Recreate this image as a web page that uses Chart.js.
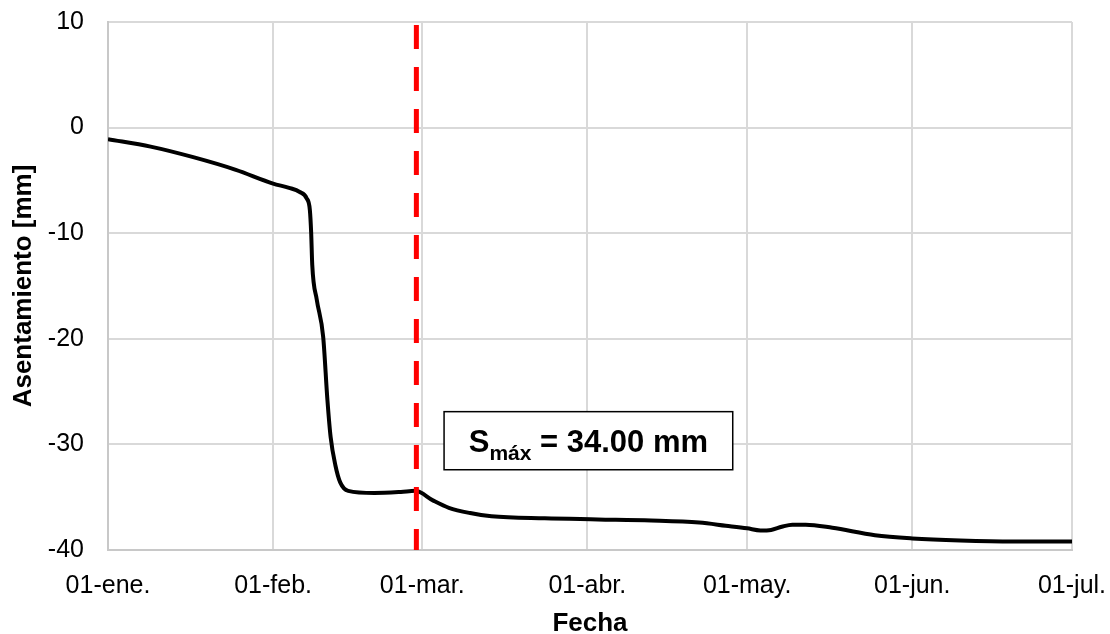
<!DOCTYPE html>
<html>
<head>
<meta charset="utf-8">
<script src="https://cdn.jsdelivr.net/npm/chart.js@4.4.1/dist/chart.umd.min.js"></script>
<style>
  body { margin: 0; background: #fff; }
  canvas { display: block; }
</style>
</head>
<body>
<canvas id="chart" width="1110" height="634"></canvas>
<script>
// Days counted from 01-ene.
const days = [0, 8, 16, 24, 31, 34, 36, 37.3, 37.9, 38.15, 38.35, 39.2, 40.4, 41.2, 41.8, 42.7, 43.6, 45.1, 50, 55, 57.7, 61, 64, 68, 72, 82, 92, 102, 111, 116, 120, 122.5, 124.5, 126.5, 128.5, 131, 136, 144, 151, 160, 170, 181];
const settlement = [-1.1, -1.8, -2.8, -4.0, -5.3, -5.7, -6.1, -6.7, -7.8, -10.0, -13.0, -16.3, -19.8, -25.8, -29.3, -32.0, -33.6, -34.4, -34.6, -34.5, -34.4, -35.3, -36.0, -36.5, -36.8, -37.0, -37.1, -37.2, -37.4, -37.7, -37.95, -38.15, -38.1, -37.8, -37.6, -37.6, -37.9, -38.6, -38.9, -39.1, -39.2, -39.2];

// Red dashed marker (day of S max)
const markerDays = [57.9, 57.9];
const markerValues = [10, -40];

const tickDays = [0, 31, 59, 90, 120, 151, 181];
const tickLabels = ["01-ene.", "01-feb.", "01-mar.", "01-abr.", "01-may.", "01-jun.", "01-jul."];

const FONT = "'Liberation Sans', Arial, sans-serif";

// Draws the "S máx = 34.00 mm" box
const labelBox = {
  id: "labelBox",
  afterDatasetsDraw(chart) {
    const { ctx, scales: { x, y } } = chart;
    const left = x.getPixelForValue(63.1);
    const right = x.getPixelForValue(117.3);
    const top = y.getPixelForValue(-26.9);
    const bottom = y.getPixelForValue(-32.4);
    ctx.save();
    ctx.fillStyle = "#fff";
    ctx.fillRect(left, top, right - left, bottom - top);
    ctx.strokeStyle = "#000";
    ctx.lineWidth = 1.5;
    ctx.strokeRect(left, top, right - left, bottom - top);

    const big = "bold 31px " + FONT;
    const small = "bold 21px " + FONT;
    ctx.font = big;
    const wS = ctx.measureText("S").width;
    const wRest = ctx.measureText(" = 34.00 mm").width;
    ctx.font = small;
    const wSub = ctx.measureText("máx").width;
    let tx = (left + right) / 2 - (wS + wSub + wRest) / 2;
    const base = (top + bottom) / 2 + 11;
    ctx.fillStyle = "#000";
    ctx.textBaseline = "alphabetic";
    ctx.font = big;
    ctx.fillText("S", tx, base);
    tx += wS;
    ctx.font = small;
    ctx.fillText("máx", tx, base + 8);
    tx += wSub;
    ctx.font = big;
    ctx.fillText(" = 34.00 mm", tx, base);
    ctx.restore();
  }
};

new Chart(document.getElementById("chart"), {
  type: "line",
  data: {
    datasets: [
      {
        label: "Smax",
        data: markerDays.map((d, i) => ({ x: d, y: markerValues[i] })),
        borderColor: "#ff0000",
        borderWidth: 5,
        borderDash: [24, 18],
        borderDashOffset: 39,
        pointRadius: 0,
        borderCapStyle: "butt"
      },
      {
        label: "Asentamiento",
        data: days.map((d, i) => ({ x: d, y: settlement[i] })),
        borderColor: "#000",
        borderWidth: 4,
        pointRadius: 0,
        cubicInterpolationMode: "monotone",
        fill: false
      }
    ]
  },
  options: {
    responsive: false,
    animation: false,
    devicePixelRatio: 1,
    layout: { padding: { top: 22, right: 38, left: 0, bottom: 0 } },
    plugins: {
      legend: { display: false },
      tooltip: { enabled: false }
    },
    scales: {
      x: {
        type: "linear",
        min: 0,
        max: 181,
        afterBuildTicks: (scale) => {
          scale.ticks = tickDays.map((v) => ({ value: v }));
        },
        afterFit: (scale) => {
          scale.height = 84;
          scale.paddingLeft = 0;
          scale.paddingRight = 0;
        },
        ticks: {
          autoSkip: false,
          maxRotation: 0,
          padding: 21,
          color: "#000",
          font: { family: FONT, size: 25 },
          callback: (value, index) => tickLabels[index]
        },
        grid: { color: "#d9d9d9", lineWidth: 2, drawTicks: false },
        border: { color: "#c8c8c8", width: 2 },
        title: {
          display: true,
          text: "Fecha",
          color: "#000",
          font: { family: FONT, size: 26, weight: "bold", lineHeight: 1 },
          padding: { top: 0, bottom: -3 }
        }
      },
      y: {
        min: -40,
        max: 10,
        afterFit: (scale) => {
          scale.width = 108;
          scale.paddingTop = 0;
          scale.paddingBottom = 0;
        },
        ticks: {
          stepSize: 10,
          padding: 24,
          color: "#000",
          font: { family: FONT, size: 25 }
        },
        grid: { color: "#d9d9d9", lineWidth: 2, drawTicks: false },
        border: { color: "#c8c8c8", width: 2 },
        title: {
          display: true,
          text: "Asentamiento [mm]",
          color: "#000",
          font: { family: FONT, size: 26, weight: "bold", lineHeight: 1 },
          padding: { top: 11, bottom: 0 }
        }
      }
    }
  },
  plugins: [labelBox]
});
</script>
</body>
</html>
